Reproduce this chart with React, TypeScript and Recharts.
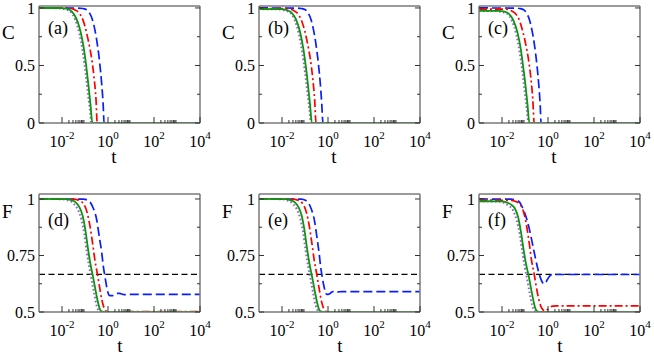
import React from 'react';
import { LineChart, Line, XAxis, YAxis, ReferenceLine } from 'recharts';

type Pt = [number, number]; // [log10(t), value]

// ---------- panel (a) : C ----------
const aPur: Pt[] = [[-3, 1], [-2.2, 0.998], [-1.9, 0.99], [-1.65, 0.97], [-1.43, 0.9], [-1.25, 0.78], [-1.1, 0.62], [-0.98, 0.44], [-0.88, 0.27], [-0.79, 0.12], [-0.72, 0], [4, 0]];
const aGrn: Pt[] = [[-3, 1], [-2, 0.999], [-1.8, 0.994], [-1.58, 0.97], [-1.38, 0.91], [-1.2, 0.8], [-1.06, 0.66], [-0.95, 0.5], [-0.85, 0.33], [-0.76, 0.16], [-0.68, 0], [4, 0]];
const aRed: Pt[] = [[-3, 1], [-1.7, 0.998], [-1.45, 0.985], [-1.25, 0.955], [-1.08, 0.89], [-0.95, 0.8], [-0.86, 0.72], [-0.78, 0.64], [-0.71, 0.56], [-0.61, 0.4], [-0.52, 0.2], [-0.47, 0], [4, 0]];
const aBlu: Pt[] = [[-3, 1], [-1.3, 0.999], [-1.1, 0.995], [-0.93, 0.985], [-0.8, 0.955], [-0.68, 0.9], [-0.57, 0.81], [-0.46, 0.68], [-0.36, 0.52], [-0.27, 0.33], [-0.21, 0.16], [-0.17, 0], [4, 0]];

// ---------- panel (b) : C ----------
const bPur: Pt[] = [[-3, 0.99], [-2.2, 0.988], [-1.92, 0.98], [-1.67, 0.963], [-1.45, 0.895], [-1.27, 0.775], [-1.12, 0.615], [-1.0, 0.44], [-0.9, 0.27], [-0.81, 0.12], [-0.74, 0], [4, 0]];
const bGrn: Pt[] = [[-3, 0.99], [-2.02, 0.989], [-1.82, 0.984], [-1.6, 0.962], [-1.4, 0.905], [-1.22, 0.795], [-1.08, 0.655], [-0.97, 0.5], [-0.87, 0.33], [-0.78, 0.16], [-0.7, 0], [4, 0]];
const bRed: Pt[] = [[-3, 0.995], [-1.76, 0.994], [-1.51, 0.98], [-1.31, 0.95], [-1.14, 0.885], [-1.01, 0.8], [-0.92, 0.72], [-0.84, 0.64], [-0.77, 0.56], [-0.67, 0.4], [-0.58, 0.2], [-0.52, 0], [4, 0]];
const bBlu: Pt[] = [[-3, 1], [-1.36, 0.999], [-1.16, 0.995], [-0.99, 0.985], [-0.86, 0.955], [-0.74, 0.9], [-0.63, 0.81], [-0.52, 0.68], [-0.42, 0.52], [-0.33, 0.33], [-0.27, 0.16], [-0.22, 0], [4, 0]];

// ---------- panel (c) : C ----------
const cPur: Pt[] = [[-3, 0.975], [-2.33, 0.973], [-2.03, 0.965], [-1.78, 0.95], [-1.56, 0.885], [-1.38, 0.77], [-1.23, 0.61], [-1.11, 0.44], [-1.01, 0.27], [-0.92, 0.12], [-0.85, 0], [4, 0]];
const cGrn: Pt[] = [[-3, 0.975], [-2.13, 0.974], [-1.93, 0.97], [-1.71, 0.95], [-1.51, 0.895], [-1.33, 0.79], [-1.19, 0.65], [-1.08, 0.49], [-0.98, 0.33], [-0.89, 0.16], [-0.81, 0], [4, 0]];
const cRed: Pt[] = [[-3, 0.99], [-1.84, 0.989], [-1.59, 0.975], [-1.39, 0.945], [-1.22, 0.88], [-1.09, 0.79], [-1.0, 0.715], [-0.92, 0.635], [-0.85, 0.555], [-0.75, 0.4], [-0.66, 0.2], [-0.6, 0], [4, 0]];
const cBlu: Pt[] = [[-3, 1], [-1.43, 0.999], [-1.23, 0.995], [-1.06, 0.985], [-0.93, 0.955], [-0.81, 0.9], [-0.7, 0.81], [-0.59, 0.68], [-0.49, 0.52], [-0.4, 0.33], [-0.34, 0.16], [-0.3, 0], [4, 0]];

// ---------- panel (d) : F ----------
const dPur: Pt[] = [[-3, 1], [-2.0, 0.999], [-1.75, 0.994], [-1.5, 0.98], [-1.32, 0.955], [-1.16, 0.91], [-1.04, 0.85], [-0.93, 0.77], [-0.82, 0.7], [-0.71, 0.64], [-0.6, 0.58], [-0.5, 0.53], [-0.42, 0.508], [-0.32, 0.5], [4, 0.5]];
const dGrn: Pt[] = [[-3, 1], [-1.8, 0.999], [-1.6, 0.995], [-1.4, 0.985], [-1.25, 0.965], [-1.1, 0.925], [-0.98, 0.86], [-0.87, 0.78], [-0.76, 0.71], [-0.65, 0.655], [-0.54, 0.595], [-0.44, 0.545], [-0.35, 0.512], [-0.25, 0.502], [-0.1, 0.5], [4, 0.5]];
const dRed: Pt[] = [[-3, 1], [-1.5, 0.999], [-1.29, 0.995], [-1.07, 0.98], [-0.9, 0.937], [-0.78, 0.878], [-0.67, 0.804], [-0.57, 0.73], [-0.46, 0.667], [-0.37, 0.612], [-0.27, 0.555], [-0.17, 0.518], [-0.06, 0.503], [0.2, 0.5], [1, 0.502], [4, 0.502]];
const dBlu: Pt[] = [[-3, 1], [-1.07, 0.999], [-0.86, 0.993], [-0.64, 0.959], [-0.49, 0.907], [-0.38, 0.833], [-0.27, 0.76], [-0.2, 0.7], [-0.13, 0.656], [-0.06, 0.612], [0.0, 0.585], [0.08, 0.572], [0.2, 0.572], [0.35, 0.582], [0.5, 0.582], [0.7, 0.577], [1, 0.578], [4, 0.578]];

// ---------- panel (e) : F ----------
const ePur: Pt[] = [[-3, 1], [-2.04, 0.999], [-1.79, 0.994], [-1.54, 0.98], [-1.36, 0.955], [-1.2, 0.91], [-1.08, 0.85], [-0.97, 0.77], [-0.86, 0.7], [-0.75, 0.64], [-0.64, 0.58], [-0.54, 0.53], [-0.46, 0.508], [-0.36, 0.5], [4, 0.5]];
const eGrn: Pt[] = [[-3, 1], [-1.84, 0.999], [-1.64, 0.995], [-1.44, 0.985], [-1.29, 0.965], [-1.14, 0.925], [-1.02, 0.86], [-0.91, 0.78], [-0.8, 0.71], [-0.69, 0.655], [-0.58, 0.595], [-0.48, 0.545], [-0.39, 0.512], [-0.29, 0.502], [-0.14, 0.5], [4, 0.5]];
const eRed: Pt[] = [[-3, 1], [-1.53, 0.999], [-1.32, 0.995], [-1.1, 0.98], [-0.93, 0.937], [-0.81, 0.878], [-0.7, 0.804], [-0.6, 0.73], [-0.49, 0.667], [-0.4, 0.612], [-0.3, 0.555], [-0.2, 0.518], [-0.09, 0.503], [0.2, 0.5], [1, 0.501], [4, 0.501]];
const eBlu: Pt[] = [[-3, 1], [-1.17, 0.999], [-0.96, 0.993], [-0.74, 0.959], [-0.59, 0.905], [-0.48, 0.83], [-0.38, 0.755], [-0.32, 0.7], [-0.27, 0.667], [-0.2, 0.625], [-0.12, 0.592], [-0.06, 0.578], [0.05, 0.579], [0.15, 0.587], [0.3, 0.593], [0.45, 0.589], [0.6, 0.59], [4, 0.59]];

// ---------- panel (f) : F ----------
const fPur: Pt[] = [[-3, 0.99], [-2.1, 0.988], [-1.9, 0.982], [-1.7, 0.97], [-1.52, 0.95], [-1.36, 0.905], [-1.23, 0.845], [-1.12, 0.77], [-1.01, 0.7], [-0.9, 0.64], [-0.79, 0.58], [-0.69, 0.53], [-0.6, 0.507], [-0.5, 0.5], [4, 0.5]];
const fGrn: Pt[] = [[-3, 0.99], [-2.0, 0.989], [-1.8, 0.985], [-1.6, 0.975], [-1.45, 0.96], [-1.3, 0.92], [-1.17, 0.85], [-1.06, 0.775], [-0.95, 0.71], [-0.84, 0.66], [-0.73, 0.6], [-0.63, 0.548], [-0.54, 0.513], [-0.44, 0.502], [-0.3, 0.5], [4, 0.5]];
const fRed: Pt[] = [[-3, 0.995], [-1.6, 0.994], [-1.43, 0.99], [-1.21, 0.975], [-1.04, 0.935], [-0.92, 0.875], [-0.81, 0.8], [-0.71, 0.725], [-0.6, 0.667], [-0.51, 0.612], [-0.41, 0.56], [-0.31, 0.525], [-0.2, 0.508], [-0.12, 0.505], [-0.03, 0.51], [0.08, 0.52], [0.2, 0.526], [0.4, 0.527], [4, 0.527]];
const fBlu: Pt[] = [[-3, 1], [-1.6, 0.999], [-1.4, 0.995], [-1.23, 0.985], [-1.1, 0.96], [-1.0, 0.935], [-0.8, 0.862], [-0.65, 0.789], [-0.53, 0.73], [-0.43, 0.686], [-0.3, 0.643], [-0.18, 0.625], [-0.1, 0.63], [-0.02, 0.645], [0.1, 0.662], [0.25, 0.666], [4, 0.666]];

// ---------- axes / labels ----------
const X_DOMAIN: [number, number] = [1e-3, 1e4];
const X_MAJOR_EXP = [-2, 0, 2, 4];
const X_MINOR_MULT = [2, 3, 4, 5, 6, 7, 8, 9];
const X_NAME = 't';

const C_DOMAIN: [number, number] = [0, 1.017];
const C_MAJOR = [0, 0.5, 1];
const C_MAJOR_LABELS = ['0', '0.5', '1'];
const C_MINOR = [0.25, 0.75];

const F_DOMAIN: [number, number] = [0.5, 1.022];
const F_MAJOR = [0.5, 0.75, 1];
const F_MAJOR_LABELS = ['0.5', '0.75', '1'];
const F_MINOR = [0.625, 0.875];
const F_REF = 0.6667;

const PANEL_LETTERS = ['(a)', '(b)', '(c)', '(d)', '(e)', '(f)'];
const Y_NAMES = ['C', 'C', 'C', 'F', 'F', 'F'];

const SERIES = [
  [aBlu, aRed, aPur, aGrn],
  [bBlu, bRed, bPur, bGrn],
  [cBlu, cRed, cPur, cGrn],
  [dBlu, dRed, dPur, dGrn],
  [eBlu, eRed, ePur, eGrn],
  [fBlu, fRed, fPur, fGrn],
];

const STYLES = [
  { stroke: '#0a1eff', dash: '9 4', width: 1.7 },
  { stroke: '#ff0000', dash: '8 3 2 3', width: 1.7 },
  { stroke: '#9460d8', dash: '1.6 2.4', width: 2 },
  { stroke: '#0a980a', dash: undefined as string | undefined, width: 1.8 },
];

const SERIF = 'Liberation Serif, Times New Roman, Times, serif';
const FRAME = '#7a7a7a';
const TICK = '#333';

const X_TICKS: number[] = [];
X_MAJOR_EXP.forEach((e) => {
  X_TICKS.push(Math.pow(10, e));
  if (e < 4) X_MINOR_MULT.forEach((m) => X_TICKS.push(m * Math.pow(10, e)));
});

const toData = (pts: Pt[]) => pts.map(([e, v]) => ({ t: Math.pow(10, e), v }));

function XTick(props: any) {
  const { x, y, payload } = props;
  const lv = Math.log10(payload.value);
  const exp = Math.round(lv);
  const isMajor = Math.abs(lv - exp) < 1e-6 && X_MAJOR_EXP.includes(exp);
  return (
    <g>
      <line x1={x} x2={x} y1={y} y2={y - (isMajor ? 6 : 3)} stroke={TICK} strokeWidth={1} />
      {isMajor && (
        <text x={x} y={y + 24} textAnchor="middle" fontFamily={SERIF} fontSize={16} fill="#000">
          10
          <tspan dy={-8} fontSize={11}>{String(exp)}</tspan>
        </text>
      )}
    </g>
  );
}

function makeYTick(major: number[], labels: string[], side: 'l' | 'r') {
  return function YTick(props: any) {
    const { x, y, payload } = props;
    const idx = major.findIndex((m) => Math.abs(m - payload.value) < 1e-6);
    const len = idx >= 0 ? 5 : 3;
    const dir = side === 'l' ? 1 : -1;
    return (
      <g>
        <line x1={x} x2={x + dir * len} y1={y} y2={y} stroke={TICK} strokeWidth={1} />
        {side === 'l' && idx >= 0 && (
          <text x={x - 4} y={y + 6} textAnchor="end" fontFamily={SERIF} fontSize={16} fill="#000">
            {labels[idx]}
          </text>
        )}
      </g>
    );
  };
}

const CTickL = makeYTick(C_MAJOR, C_MAJOR_LABELS, 'l');
const CTickR = makeYTick(C_MAJOR, C_MAJOR_LABELS, 'r');
const FTickL = makeYTick(F_MAJOR, F_MAJOR_LABELS, 'l');
const FTickR = makeYTick(F_MAJOR, F_MAJOR_LABELS, 'r');

const COL_LEFT = [0, 220, 440];
const COL_WIDTH = [220, 220, 214];
const PLOT_W = 161;

function Panel({ idx }: { idx: number }) {
  const row = Math.floor(idx / 3);
  const col = idx % 3;
  const isF = row === 1;
  const left = COL_LEFT[col];
  const width = COL_WIDTH[col];
  const top = isF ? 188 : 0;
  const height = isF ? 167 : 172;
  // every axis is 1px thick, so margins are 1px smaller than plot offsets
  const margin = { top: 5, left: 38, right: width - 39 - PLOT_W - 1, bottom: height - 123 - 1 };
  const marginF = { top: 5, left: 38, right: width - 39 - PLOT_W - 1, bottom: 43 - 1 };
  const yTicks = isF ? [...F_MAJOR, ...F_MINOR].sort() : [...C_MAJOR, ...C_MINOR].sort();
  const domain = isF ? F_DOMAIN : C_DOMAIN;
  const nameBaseline = isF ? 30 : 38.5;
  const letterBaseline = isF ? 38 : 34;
  const tX = isF ? 39 + 81 : 39 + 75;
  const tBaseline = isF ? 164 : 163;
  const axisLine = { stroke: FRAME, strokeWidth: 1.5 };
  return (
    <div style={{ position: 'absolute', left, top, width, height }}>
      <LineChart width={width} height={height} margin={isF ? marginF : margin} style={{ overflow: 'visible' }}>
        <XAxis
          xAxisId="b"
          type="number"
          dataKey="t"
          scale="log"
          domain={X_DOMAIN}
          allowDataOverflow
          ticks={X_TICKS}
          interval={0}
          tick={<XTick />}
          tickLine={false}
          tickSize={0}
          tickMargin={0}
          height={1}
          axisLine={axisLine}
        />
        <XAxis
          xAxisId="top"
          orientation="top"
          type="number"
          dataKey="t"
          scale="log"
          domain={X_DOMAIN}
          allowDataOverflow
          ticks={X_TICKS}
          interval={0}
          tick={() => <g />}
          tickLine={false}
          tickSize={0}
          height={1}
          axisLine={axisLine}
        />
        <YAxis
          yAxisId="l"
          type="number"
          domain={domain}
          allowDataOverflow
          ticks={yTicks}
          interval={0}
          tick={isF ? <FTickL /> : <CTickL />}
          tickLine={false}
          tickSize={0}
          tickMargin={0}
          width={1}
          axisLine={axisLine}
        />
        <YAxis
          yAxisId="r"
          orientation="right"
          type="number"
          domain={domain}
          allowDataOverflow
          ticks={yTicks}
          interval={0}
          tick={isF ? <FTickR /> : <CTickR />}
          tickLine={false}
          tickSize={0}
          tickMargin={0}
          width={1}
          axisLine={axisLine}
        />
        {isF && (
          <ReferenceLine
            xAxisId="b"
            yAxisId="l"
            y={F_REF}
            stroke="#000"
            strokeDasharray="6 3.5"
            strokeWidth={1.3}
          />
        )}
        {SERIES[idx].map((s, i) => (
          <Line
            key={i}
            xAxisId="b"
            yAxisId="l"
            data={toData(s)}
            dataKey="v"
            type="monotone"
            stroke={STYLES[i].stroke}
            strokeDasharray={STYLES[i].dash}
            strokeWidth={STYLES[i].width}
            dot={false}
            activeDot={false}
            isAnimationActive={false}
          />
        ))}
        <text x={2} y={nameBaseline} fontFamily={SERIF} fontSize={19} fill="#000">
          {Y_NAMES[idx]}
        </text>
        <text x={48} y={letterBaseline} fontFamily={SERIF} fontSize={18} fill="#000">
          {PANEL_LETTERS[idx]}
        </text>
        <text x={tX} y={tBaseline} textAnchor="middle" fontFamily={SERIF} fontSize={19} fill="#000">
          {X_NAME}
        </text>
      </LineChart>
    </div>
  );
}

export default function App() {
  return (
    <div
      style={{
        position: 'absolute',
        left: 0,
        top: 0,
        width: 654,
        height: 355,
        overflow: 'hidden',
        background: '#fff',
      }}
    >
      {[0, 1, 2, 3, 4, 5].map((i) => (
        <Panel key={i} idx={i} />
      ))}
    </div>
  );
}
